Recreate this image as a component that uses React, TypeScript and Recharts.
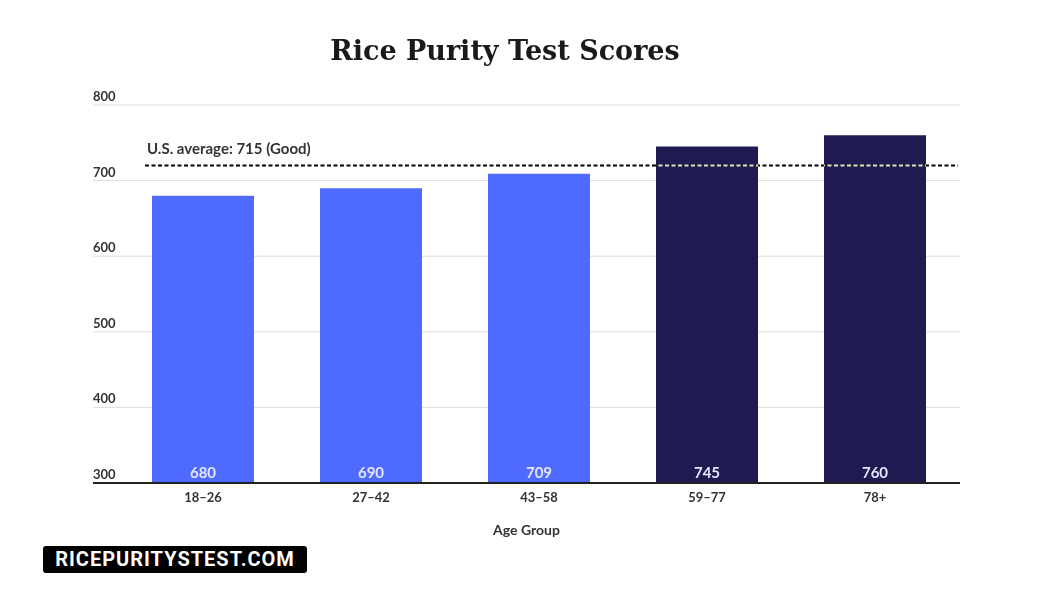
import React from 'react';
import { ComposedChart, Bar, XAxis, YAxis, CartesianGrid, ReferenceLine, Cell, LabelList, Label } from 'recharts';

const categories = ['18–26', '27–42', '43–58', '59–77', '78+'];
const scores = [680, 690, 709, 745, 760];
const barColors = ['#4F6BFF', '#4F6BFF', '#4F6BFF', '#1F1B50', '#1F1B50'];
const yTicks = [300, 400, 500, 600, 700, 800];
const AVG_POSITION = 720;
const AVG_LABEL = 'U.S. average: 715 (Good)';
const TITLE = 'Rice Purity Test Scores';
const X_LABEL = 'Age Group';
const WATERMARK = 'RICEPURITYSTEST.COM';

const data = categories.map((c, i) => ({ group: c, score: scores[i], color: barColors[i] }));

const FONT = 'Lato, "Open Sans", sans-serif';

const renderYTick = (props: any) => {
  const { y, payload } = props;
  return (
    <text x={93} y={y - 4} textAnchor="start" fontFamily={FONT} fontWeight={700} fontSize={13} fill="#333">
      {payload.value}
    </text>
  );
};

const renderBarLabel = (props: any) => {
  const { x, y, width, height, value } = props;
  return (
    <text
      x={x + width / 2}
      y={y + height - 5}
      textAnchor="middle"
      fontFamily={FONT}
      fontWeight={700}
      fontSize={15}
      fill="#E4E6FF"
    >
      {value}
    </text>
  );
};

const RefShape = (props: any) => {
  const { x1, x2, y1 } = props;
  const sx = x1 + 52;
  return (
    <g>
      <line
        x1={sx}
        x2={x2 - 2}
        y1={y1}
        y2={y1}
        stroke="#ffffff"
        strokeWidth={2}
        strokeDasharray="4 2.5"
        style={{ mixBlendMode: 'difference' }}
      />
      <text x={sx + 2} y={y1 - 11} fontFamily={FONT} fontWeight={700} fontSize={15} fill="#333">
        {AVG_LABEL}
      </text>
    </g>
  );
};

export default function App() {
  return (
    <div style={{ position: 'absolute', left: 0, top: 0, width: 1052, height: 592, background: '#fff', overflow: 'hidden' }}>
      <ComposedChart
        width={1052}
        height={592}
        data={data}
        margin={{ top: 105, right: 92, bottom: 59, left: 92 }}
        style={{ background: '#fff' }}
      >
        <CartesianGrid vertical={false} stroke="#dddddd" strokeWidth={1} />
        <YAxis
          domain={[300, 800]}
          ticks={yTicks}
          width={1}
          axisLine={false}
          tickLine={false}
          tickSize={0}
          tickMargin={0}
          tick={renderYTick}
          interval={0}
        />
        <XAxis
          dataKey="group"
          height={50}
          padding={{ left: 26, right: 1 }}
          axisLine={{ stroke: '#222', strokeWidth: 2 }}
          tickLine={false}
          tickSize={0}
          tickMargin={10}
          tick={{ fontFamily: FONT, fontWeight: 700, fontSize: 13, fill: '#333' }}
        >
          <Label value={X_LABEL} position="insideBottom" offset={-2} style={{ fontFamily: FONT, fontWeight: 700, fontSize: 14, fill: '#333' }} />
        </XAxis>
        <Bar dataKey="score" barSize={102} isAnimationActive={false}>
          {data.map((d, i) => (
            <Cell key={i} fill={d.color} />
          ))}
          <LabelList dataKey="score" content={renderBarLabel} />
        </Bar>
        <ReferenceLine y={AVG_POSITION} shape={<RefShape />} />
      </ComposedChart>
      <div
        style={{
          position: 'absolute',
          left: 0,
          width: 1010,
          top: 31,
          textAlign: 'center',
          fontFamily: '"DejaVu Serif", "Liberation Serif", serif',
          fontWeight: 700,
          fontSize: 27,
          color: '#1a1a1a',
          lineHeight: '40px',
        }}
      >
        {TITLE}
      </div>
      <div
        style={{
          position: 'absolute',
          left: 43,
          top: 546,
          width: 264,
          height: 27,
          background: '#000',
          borderRadius: 3,
          color: '#fff',
          fontFamily: 'Roboto, "Open Sans", sans-serif',
          fontWeight: 700,
          fontSize: 20,
          letterSpacing: 1,
          lineHeight: '27px',
          textAlign: 'center',
        }}
      >
        {WATERMARK}
      </div>
    </div>
  );
}
